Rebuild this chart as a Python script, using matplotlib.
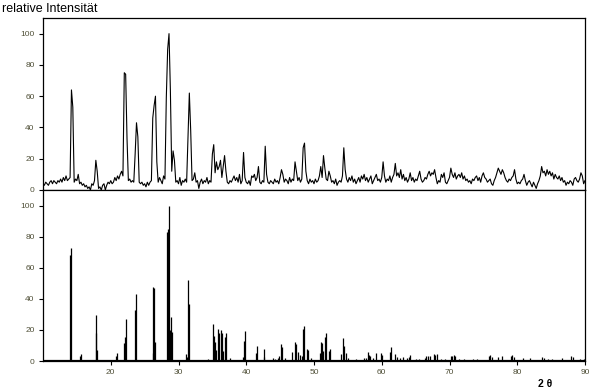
import numpy as np
import matplotlib
matplotlib.use("Agg")
import matplotlib.pyplot as plt

# ---------------- data ----------------
# measured pattern: relative intensity on a 0.2 deg 2-theta grid from 10 to 90
meas_start = 10.0
meas_end = 90.0
meas_intensity = [
    4, 3, 5, 4, 3, 5, 6, 4, 6, 5,          # 10
    4, 6, 5, 7, 5, 8, 6, 9, 6, 7,          # 12
    8, 64, 53, 5, 7, 6, 10, 4, 5, 3,       # 14
    4, 2, 3, 1, 2, 0, 4, 3, 6, 19,         # 16
    12, 1, 2, 0, 3, 4, 0, 3, 5, 4,         # 18
    6, 4, 5, 8, 6, 9, 7, 10, 12, 9,        # 20
    75, 74, 33, 6, 7, 5, 6, 5, 23, 43,     # 22
    34, 5, 4, 5, 3, 4, 2, 5, 3, 5,         # 24
    6, 46, 54, 60, 18, 5, 8, 6, 4, 9,      # 26
    7, 59, 90, 100, 64, 12, 25, 19, 5, 6,  # 28
    4, 8, 3, 6, 5, 7, 5, 34, 62, 38,       # 30
    6, 7, 11, 5, 6, 1, 5, 7, 4, 6,         # 32
    5, 8, 4, 6, 5, 23, 29, 11, 18, 13,     # 34
    15, 19, 8, 15, 22, 12, 5, 4, 6, 5,     # 36
    7, 9, 6, 8, 5, 10, 4, 6, 24, 8,        # 38
    5, 4, 6, 3, 9, 8, 10, 6, 8, 15,        # 40
    5, 4, 6, 5, 28, 10, 5, 4, 6, 5,        # 42
    4, 7, 5, 6, 4, 8, 13, 10, 5, 7,        # 44
    6, 4, 8, 5, 7, 6, 18, 12, 6, 8,        # 46
    5, 7, 27, 30, 12, 6, 4, 7, 5, 6,       # 48
    4, 7, 5, 6, 9, 15, 8, 22, 14, 7,       # 50
    6, 12, 9, 5, 6, 4, 7, 3, 5, 6,         # 52
    5, 9, 27, 13, 7, 5, 8, 6, 9, 5,        # 54
    7, 4, 6, 8, 5, 9, 7, 10, 6, 8,         # 56
    5, 7, 9, 4, 6, 8, 10, 6, 7, 5,         # 58
    8, 18, 9, 5, 7, 6, 9, 5, 8, 10,        # 60
    17, 9, 11, 8, 13, 7, 10, 6, 8, 5,      # 62
    7, 11, 6, 8, 5, 7, 6, 9, 12, 7,        # 64
    5, 6, 8, 7, 10, 12, 9, 11, 10, 13,     # 66
    8, 4, 6, 5, 10, 8, 11, 5, 4, 6,        # 68
    8, 14, 10, 8, 11, 7, 9, 10, 8, 11,     # 70
    7, 9, 6, 7, 5, 6, 4, 7, 6, 8,          # 72
    9, 6, 8, 5, 9, 11, 8, 7, 5, 6,         # 74
    7, 4, 3, 6, 8, 11, 14, 12, 10, 13,     # 76
    11, 8, 6, 5, 7, 6, 8, 9, 13, 7,        # 78
    4, 5, 4, 6, 7, 10, 6, 3, 5, 6,         # 80
    4, 2, 5, 3, 1, 4, 6, 9, 15, 11,        # 82
    12, 9, 13, 10, 12, 9, 11, 7, 10, 8,    # 84
    7, 9, 6, 8, 5, 6, 3, 5, 4, 6,          # 86
    5, 3, 7, 8, 6, 5, 7, 11, 9, 4,         # 88
    6,                                     # 90
]

# calculated pattern: reflection positions (2 theta) and relative intensities
calc_two_theta = [
    14.05, 14.20, 15.50, 15.65, 17.77, 17.86, 18.00, 20.80, 20.96,
    22.00, 22.14, 22.29, 23.60, 23.77, 26.17, 26.27, 26.42, 26.57,
    28.29, 28.48, 28.63, 28.78, 28.92, 29.07, 31.10, 31.30, 31.43, 31.58,
    34.40, 35.12, 35.27, 35.40, 35.56, 35.86, 36.00, 36.30, 36.45, 36.60,
    36.80, 36.95, 37.58, 39.45, 39.60, 39.75, 41.46, 41.60, 42.55, 42.64,
    43.97, 44.20, 44.70, 44.85, 45.20, 45.35, 45.74, 46.68, 47.17, 47.30,
    47.66, 47.90, 48.30, 48.40, 48.54, 48.98, 49.18, 49.50, 50.95, 51.10,
    51.25, 51.40, 51.55, 51.70, 52.23, 52.38, 54.05, 54.30, 54.44, 54.69,
    55.03, 56.27, 57.35, 57.74, 57.98, 58.13, 58.28, 58.72, 59.10, 59.95,
    60.10, 61.28, 61.43, 61.92, 62.26, 62.65, 63.14, 63.73, 64.03, 64.23,
    65.00, 65.50, 66.34, 66.60, 66.83, 67.08, 67.70, 67.90, 68.20, 68.80,
    69.40, 70.18, 70.37, 70.62, 70.87, 71.40, 72.10, 73.40, 74.00, 75.78,
    75.98, 76.27, 77.15, 77.74, 79.03, 79.28, 79.47, 80.85, 81.83, 83.60,
    83.90, 84.50, 85.20, 86.65, 87.98, 88.30, 89.20, 89.80,
]
calc_intensity = [
    68, 73, 3, 4.5, 29.5, 18, 7, 3.4, 5.3,
    11.8, 15.6, 27, 33, 43, 5, 47.6, 47, 12.4,
    83, 84.6, 100, 20, 28.4, 18.8, 4.5, 2.8, 52, 36.5,
    1, 24.1, 16, 12, 7, 20.3, 17.7, 19.9, 18, 6.4,
    15.6, 17.7, 1.7, 2.8, 13, 19.4, 5, 9.8, 2.8, 7.9,
    1.7, 1, 2, 3.4, 10.9, 8.8, 1.7, 6, 12.4, 11,
    5.5, 3.8, 3.4, 20.3, 22.4, 7.7, 7, 1.7, 5.3, 12.4,
    11.3, 6.4, 15.6, 17.7, 6.6, 8, 4.5, 14.5, 9.8, 5.3,
    1.7, 1.3, 1.7, 1.7, 5.5, 3.8, 3.4, 2, 5, 5.3,
    3.8, 5.5, 8.8, 4.5, 2.3, 1.7, 2.8, 1.7, 2.8, 3.8,
    1, 1.2, 2, 3.4, 3, 3, 4.3, 3.8, 4.3, 1.5,
    1.2, 3.2, 3.4, 3.8, 3.4, 1.5, 1.2, 1.5, 1.2, 3.4,
    3.8, 2.8, 2.3, 3.2, 3.2, 3.6, 2.8, 1.7, 2, 2.3,
    2, 1.5, 1.2, 1.7, 3.2, 2.3, 1.5, 1.2,
]

y_ticks = [0, 20, 40, 60, 80, 100]
x_ticks = [20, 30, 40, 50, 60, 70, 80, 90]
y_label_text = "relative Intensität"
x_label_text = "2 θ"

# ---------------- plot ----------------
plt.rcParams['font.family'] = ['Liberation Sans', 'DejaVu Sans']
W, H = 594, 392
fig = plt.figure(figsize=(W / 100, H / 100), dpi=100)
fig.patch.set_facecolor('white')

left = 43 / W
width = 542 / W
ax1 = fig.add_axes([left, 1 - 190 / H, width, 172 / H])
ax2 = fig.add_axes([left, 1 - 361 / H, width, 171 / H])

two_theta_meas = np.linspace(meas_start, meas_end, len(meas_intensity))
ax1.plot(two_theta_meas, meas_intensity, color='black', lw=0.8)

ax2.vlines(calc_two_theta, 0, calc_intensity, color='black', lw=0.9)
ax2.axhline(0, color='black', lw=1.6)

tick_color = '#505038'
for ax in (ax1, ax2):
    ax.set_xlim(meas_start, meas_end)
    ax.set_ylim(0, 110)
    ax.set_yticks(y_ticks)
    ax.set_yticklabels([str(v) for v in y_ticks])
    ax.tick_params(axis='y', direction='out', length=3, width=0.8,
                   labelsize=6, labelcolor=tick_color, pad=3)
    for sp in ax.spines.values():
        sp.set_linewidth(0.9)
        sp.set_color('black')

ax1.tick_params(axis='x', bottom=False, labelbottom=False)
ax2.set_xticks(x_ticks)
ax2.set_xticklabels([str(v) for v in x_ticks])
ax2.tick_params(axis='x', direction='out', length=3, width=0.8,
                labelsize=6, labelcolor=tick_color, pad=2.5)

fig.text(2 / W, 1 - 8.5 / H, y_label_text, fontsize=9, ha='left', va='center')
fig.text(545 / W, 1 - 384 / H, x_label_text, fontsize=7.5, fontweight='bold',
         ha='center', va='center')

fig.savefig('out.png', dpi=100, facecolor='white')
